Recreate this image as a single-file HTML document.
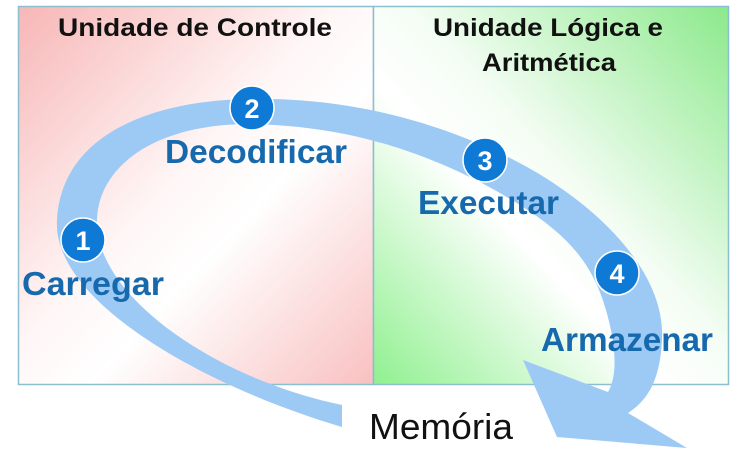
<!DOCTYPE html>
<html><head><meta charset="utf-8"><style>
html,body{margin:0;padding:0;background:#fff;width:746px;height:465px;overflow:hidden}
</style></head><body>
<svg width="746" height="465" viewBox="0 0 746 465" xmlns="http://www.w3.org/2000/svg" font-family="'Liberation Sans', sans-serif">
<defs>
<linearGradient id="red" x1="0" y1="0" x2="1" y2="1">
<stop offset="0" stop-color="#f7b6b6"/>
<stop offset="0.45" stop-color="#fff6f6"/>
<stop offset="0.6" stop-color="#ffffff"/>
<stop offset="1" stop-color="#f9c0c0"/>
</linearGradient>
<linearGradient id="green" x1="1" y1="0" x2="0" y2="1">
<stop offset="0" stop-color="#8be98b"/>
<stop offset="0.45" stop-color="#f4fdf4"/>
<stop offset="0.6" stop-color="#ffffff"/>
<stop offset="1" stop-color="#8ff08f"/>
</linearGradient>
</defs>
<rect x="18.5" y="6.5" width="355" height="378" fill="url(#red)" stroke="#8bbfd0" stroke-width="1.5"/>
<rect x="373.5" y="6.5" width="355" height="378" fill="url(#green)" stroke="#8bbfd0" stroke-width="1.5"/>
<g font-weight="bold" fill="#111" font-size="25" text-anchor="middle">
<text x="195" y="36" textLength="274" lengthAdjust="spacingAndGlyphs">Unidade de Controle</text>
<text x="548" y="36" textLength="230" lengthAdjust="spacingAndGlyphs">Unidade Lógica e</text>
<text x="549" y="71" textLength="134" lengthAdjust="spacingAndGlyphs">Aritmética</text>
</g>
<path fill="#9ccaf5" d="M342 427 C200 385 52 300 57 220 C62 130 160 100 250 99 C360 97 450 128 510 158 C590 198 666 268 662 340 C660 380 648 400 628 413 L687 448 L557 437 L523 360 L608 392 C618 375 616 345 606 310 C590 255 560 225 480 182 C420 152 350 126 250 124 C150 124 95 170 97 225 C100 300 220 380 342 405 Z"/>
<g fill="#0f7ad6" stroke="#ffffff" stroke-width="1.5">
<circle cx="83" cy="240" r="22"/>
<circle cx="252" cy="108" r="22"/>
<circle cx="485" cy="160" r="22"/>
<circle cx="617" cy="273" r="22"/>
</g>
<g fill="#fff" font-weight="bold" font-size="27" text-anchor="middle">
<text x="83" y="250">1</text>
<text x="252" y="118">2</text>
<text x="485" y="170">3</text>
<text x="617" y="283">4</text>
</g>
<g fill="#1769ad" font-weight="bold" font-size="33">
<text x="22" y="295" textLength="142" lengthAdjust="spacingAndGlyphs">Carregar</text>
<text x="165" y="163" textLength="182" lengthAdjust="spacingAndGlyphs">Decodificar</text>
<text x="418" y="214" textLength="141" lengthAdjust="spacingAndGlyphs">Executar</text>
<text x="541" y="351" textLength="172" lengthAdjust="spacingAndGlyphs">Armazenar</text>
</g>
<text x="369" y="439" font-size="36" fill="#111" textLength="144" lengthAdjust="spacingAndGlyphs">Memória</text>
</svg>
</body></html>
